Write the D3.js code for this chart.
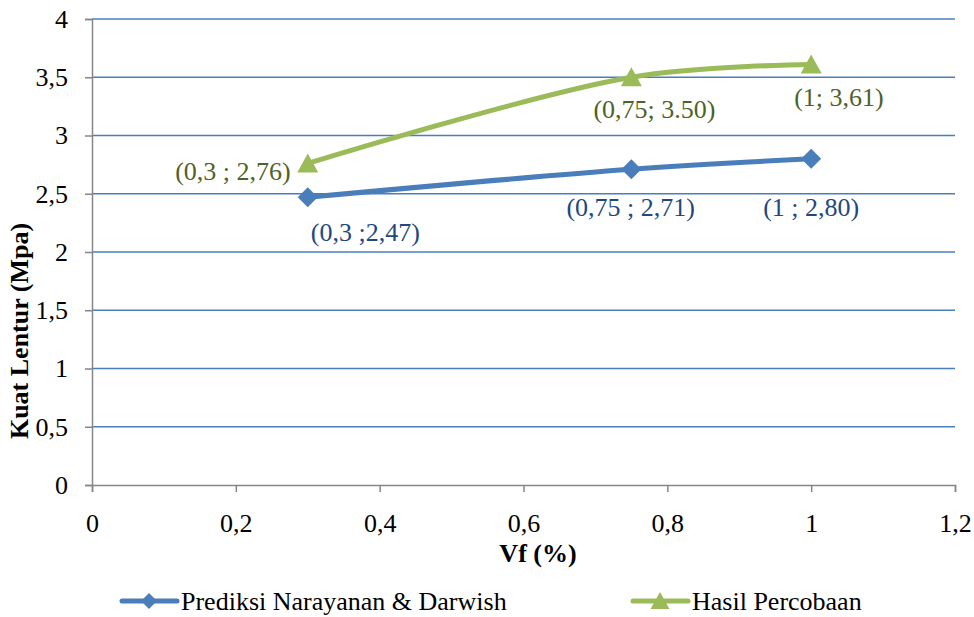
<!DOCTYPE html>
<html>
<head>
<meta charset="utf-8">
<script src="https://cdn.jsdelivr.net/npm/d3@7"></script>
<style>
  html, body { margin: 0; padding: 0; background: #fff; }
  svg { display: block; }
  text { font-family: "Liberation Serif", "Times New Roman", serif; }
</style>
</head>
<body>
<svg id="chart" width="974" height="617"></svg>
<script>
// Flexural strength vs fibre volume fraction
const seriesNames = ["Prediksi Narayanan & Darwish", "Hasil Percobaan"];
const vf = [0.3, 0.75, 1];
const prediksi = [2.47, 2.71, 2.80];
const percobaan = [2.76, 3.50, 3.61];
const prediksiLabels = ["(0,3 ;2,47)", "(0,75 ; 2,71)", "(1 ; 2,80)"];
const percobaanLabels = ["(0,3 ; 2,76)", "(0,75; 3.50)", "(1; 3,61)"];
const xTicks = [0, 0.2, 0.4, 0.6, 0.8, 1, 1.2];
const yTicks = [0, 0.5, 1, 1.5, 2, 2.5, 3, 3.5, 4];

const fmt = v => String(v).replace(".", ",");

const svg = d3.select("#chart");
const margin = { left: 92, right: 19, top: 19, bottom: 132 };
const W = 974, H = 617;
const x = d3.scaleLinear().domain([0, 1.2]).range([margin.left, W - margin.right]);
const y = d3.scaleLinear().domain([0, 4]).range([H - margin.bottom, margin.top]);

const gridColor = "#4a7ebb";
const axisColor = "#868686";
const blue = "#4a7ebb", green = "#9bbb59";
const blueText = "#1f497d", greenText = "#4f6228";
const fs = 26;

// horizontal gridlines
svg.append("g").selectAll("line").data(yTicks.filter(d => d > 0)).join("line")
  .attr("x1", x(0)).attr("x2", x(1.2))
  .attr("y1", d => y(d)).attr("y2", d => y(d))
  .attr("stroke", gridColor).attr("stroke-width", 1.5);

// axes
const yAxis = svg.append("g").attr("transform", `translate(${x(0)},0)`)
  .call(d3.axisLeft(y).tickValues(yTicks).tickFormat(fmt).tickSize(7).tickPadding(17));
const xAxis = svg.append("g").attr("transform", `translate(0,${y(0)})`)
  .call(d3.axisBottom(x).tickValues(xTicks).tickFormat(fmt).tickSize(7).tickPadding(22));
[yAxis, xAxis].forEach(g => {
  g.select(".domain").attr("stroke", axisColor).attr("stroke-width", 1.5);
  g.selectAll(".tick line").attr("stroke", axisColor).attr("stroke-width", 1.5);
  g.selectAll(".tick text").attr("fill", "#000").style("font-size", fs + "px")
    .style("font-family", '"Liberation Serif", serif');
});

// axis titles
svg.append("text").attr("x", 538).attr("y", 562).attr("text-anchor", "middle")
  .style("font-size", fs + "px").style("font-weight", "bold").text("Vf (%)");
svg.append("text").attr("transform", "translate(28,331) rotate(-90)").attr("text-anchor", "middle")
  .style("font-size", fs + "px").style("font-weight", "bold").text("Kuat Lentur (Mpa)");

const line = d3.line().x(d => x(d[0])).y(d => y(d[1])).curve(d3.curveCatmullRom.alpha(0.5));

// square-on-point diamond and upright triangle markers
const diamondPath = r => `M0,${-r}L${r},0L0,${r}L${-r},0Z`;
const trianglePath = r => `M0,${-r}L${r * 1.05},${r * 0.9}L${-r * 1.05},${r * 0.9}Z`;

const series = [
  { name: seriesNames[0], values: prediksi, labels: prediksiLabels, color: blue, textColor: blueText,
    marker: diamondPath, size: 10, legendSize: 8,
    offsets: [[3, 44, "start"], [-65, 47, "start"], [-48, 57, "start"]] },
  { name: seriesNames[1], values: percobaan, labels: percobaanLabels, color: green, textColor: greenText,
    marker: trianglePath, size: 10, legendSize: 9,
    offsets: [[-17, 17, "end"], [-38, 41, "start"], [-17, 42, "start"]] }
];

series.forEach(s => {
  const pts = vf.map((v, i) => [v, s.values[i]]);
  svg.append("path").attr("d", line(pts)).attr("fill", "none")
    .attr("stroke", s.color).attr("stroke-width", 5).attr("stroke-linecap", "round");
  svg.append("g").selectAll("path").data(pts).join("path")
    .attr("d", s.marker(s.size)).attr("fill", s.color)
    .attr("transform", d => `translate(${x(d[0])},${y(d[1])})`);
  svg.append("g").selectAll("text").data(pts).join("text")
    .attr("x", (d, i) => x(d[0]) + s.offsets[i][0])
    .attr("y", (d, i) => y(d[1]) + s.offsets[i][1])
    .attr("text-anchor", (d, i) => s.offsets[i][2])
    .attr("fill", s.textColor).style("font-size", fs + "px")
    .text((d, i) => s.labels[i]);
});

// legend
const legendItems = [
  { s: series[0], x0: 122 },
  { s: series[1], x0: 633 }
];
legendItems.forEach(({ s, x0 }) => {
  const ly = 601;
  svg.append("line").attr("x1", x0).attr("x2", x0 + 55).attr("y1", ly).attr("y2", ly)
    .attr("stroke", s.color).attr("stroke-width", 5).attr("stroke-linecap", "round");
  svg.append("path").attr("d", s.marker(s.legendSize)).attr("fill", s.color)
    .attr("transform", `translate(${x0 + 27},${ly})`);
  svg.append("text").attr("x", x0 + 59).attr("y", ly + 9).style("font-size", fs + "px")
    .attr("fill", "#000").text(s.name);
});
</script>
</body>
</html>
